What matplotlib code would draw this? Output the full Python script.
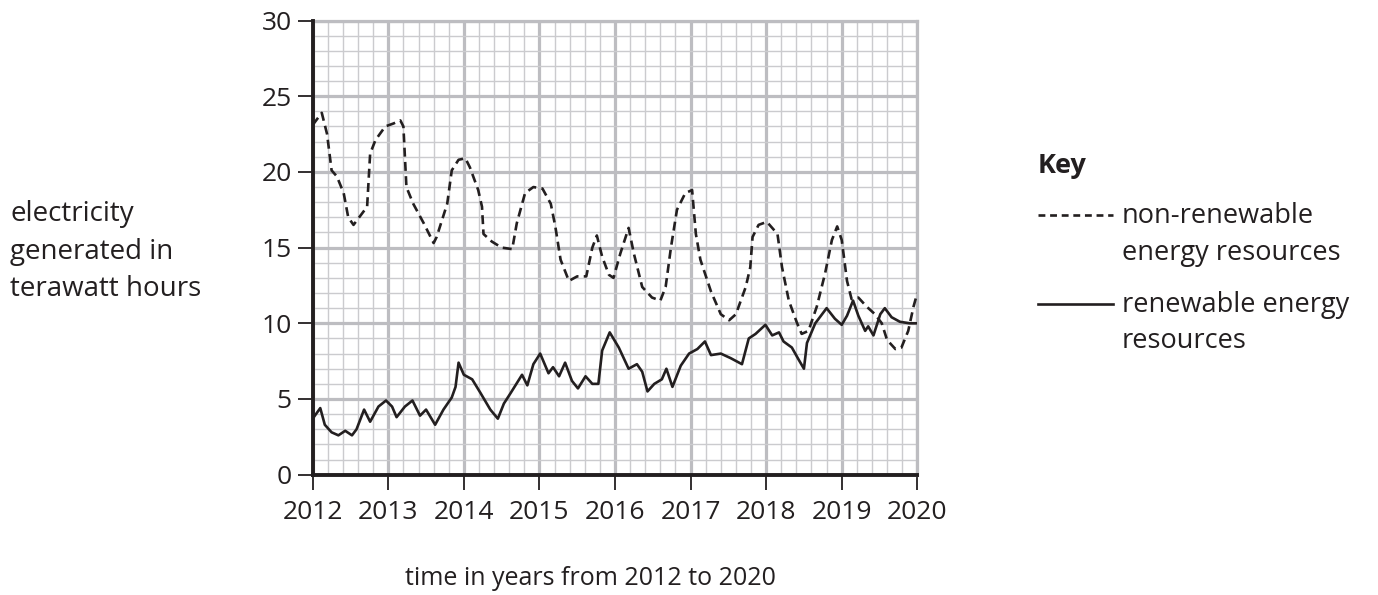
import matplotlib
matplotlib.use('Agg')
import matplotlib.pyplot as plt
from matplotlib.lines import Line2D
from matplotlib.ticker import MultipleLocator

plt.rcParams['font.family'] = ['Open Sans', 'DejaVu Sans']

# values (terawatt hours)
nonren_years = [2012.0, 2012.12, 2012.19, 2012.25, 2012.32, 2012.41, 2012.47, 2012.54, 2012.63, 2012.72,
                2012.76, 2012.83, 2012.96, 2013.07, 2013.16, 2013.20, 2013.24, 2013.33, 2013.47, 2013.60,
                2013.64, 2013.78, 2013.84, 2013.93, 2014.02, 2014.08, 2014.19, 2014.24, 2014.26, 2014.37,
                2014.50, 2014.64, 2014.70, 2014.81, 2014.92, 2015.04, 2015.15, 2015.21, 2015.28, 2015.39,
                2015.50, 2015.62, 2015.70, 2015.76, 2015.83, 2015.92, 2015.98, 2016.07, 2016.18, 2016.25,
                2016.36, 2016.49, 2016.60, 2016.67, 2016.74, 2016.82, 2016.93, 2017.02, 2017.07, 2017.13,
                2017.27, 2017.40, 2017.51, 2017.60, 2017.73, 2017.79, 2017.82, 2017.90, 2018.01, 2018.15,
                2018.21, 2018.30, 2018.41, 2018.47, 2018.56, 2018.67, 2018.78, 2018.87, 2018.94, 2019.00,
                2019.07, 2019.13, 2019.22, 2019.33, 2019.44, 2019.53, 2019.60, 2019.71, 2019.79, 2019.88,
                2019.95, 2020.0]
nonren_twh = [23.1, 23.9, 22.5, 20.1, 19.7, 18.6, 17.0, 16.5, 17.1, 17.7,
              21.2, 22.1, 23.0, 23.2, 23.4, 23.0, 19.0, 17.9, 16.6, 15.3,
              15.7, 17.9, 20.1, 20.8, 20.9, 20.3, 18.8, 17.7, 15.9, 15.4,
              15.0, 14.9, 16.6, 18.6, 19.0, 18.9, 17.9, 16.4, 14.2, 12.8,
              13.1, 13.1, 15.0, 15.8, 14.4, 13.2, 13.0, 14.6, 16.3, 14.6,
              12.4, 11.7, 11.5, 12.4, 15.0, 17.5, 18.6, 18.8, 15.9, 14.2,
              12.1, 10.6, 10.2, 10.6, 12.4, 13.7, 15.7, 16.5, 16.7, 15.9,
              13.7, 11.5, 10.0, 9.3, 9.5, 11.1, 13.3, 15.5, 16.4, 15.5,
              12.8, 11.6, 11.7, 11.1, 10.6, 10.0, 8.9, 8.3, 8.4, 9.5,
              11.1, 12.0]

ren_years = [2012.0, 2012.10, 2012.16, 2012.25, 2012.34, 2012.43, 2012.52, 2012.58, 2012.68, 2012.76,
             2012.87, 2012.97, 2013.05, 2013.11, 2013.22, 2013.32, 2013.42, 2013.50, 2013.62, 2013.73,
             2013.84, 2013.89, 2013.93, 2014.00, 2014.11, 2014.22, 2014.35, 2014.45, 2014.53, 2014.62,
             2014.77, 2014.84, 2014.92, 2015.01, 2015.12, 2015.18, 2015.26, 2015.34, 2015.43, 2015.51,
             2015.61, 2015.70, 2015.78, 2015.83, 2015.93, 2016.05, 2016.18, 2016.29, 2016.36, 2016.43,
             2016.52, 2016.62, 2016.68, 2016.76, 2016.87, 2016.98, 2017.09, 2017.19, 2017.27, 2017.40,
             2017.53, 2017.68, 2017.77, 2017.86, 2017.99, 2018.08, 2018.17, 2018.23, 2018.34, 2018.43,
             2018.50, 2018.54, 2018.65, 2018.80, 2018.91, 2019.00, 2019.07, 2019.15, 2019.22, 2019.31,
             2019.35, 2019.42, 2019.51, 2019.57, 2019.66, 2019.77, 2019.90, 2020.0]
ren_twh = [3.7, 4.4, 3.3, 2.8, 2.6, 2.9, 2.6, 3.0, 4.3, 3.5,
           4.5, 4.9, 4.5, 3.8, 4.5, 4.9, 3.9, 4.3, 3.3, 4.3,
           5.1, 5.8, 7.4, 6.6, 6.3, 5.4, 4.3, 3.7, 4.7, 5.4,
           6.6, 5.9, 7.3, 8.0, 6.7, 7.1, 6.5, 7.4, 6.2, 5.7,
           6.5, 6.0, 6.0, 8.2, 9.4, 8.4, 7.0, 7.3, 6.8, 5.5,
           6.0, 6.3, 7.0, 5.8, 7.2, 8.0, 8.3, 8.8, 7.9, 8.0,
           7.7, 7.3, 9.0, 9.3, 9.9, 9.2, 9.4, 8.8, 8.4, 7.6,
           7.0, 8.7, 10.0, 11.0, 10.3, 9.9, 10.5, 11.5, 10.5, 9.5,
           9.8, 9.2, 10.6, 11.0, 10.4, 10.1, 10.0, 10.0]

year_ticks = [2012, 2013, 2014, 2015, 2016, 2017, 2018, 2019, 2020]
twh_ticks = [0, 5, 10, 15, 20, 25, 30]

W, H = 1378, 595
fig = plt.figure(figsize=(W / 100, H / 100), dpi=100)
ax = fig.add_axes([312.7 / W, 120.3 / H, 604.6 / W, 454.2 / H])

ink = '#231f20'
major_grey = '#bdbdc1'
minor_grey = '#cbcbce'

ax.plot(nonren_years, nonren_twh, color=ink, lw=1.9, dashes=[3.4, 2.0], zorder=3)
ax.plot(ren_years, ren_twh, color=ink, lw=1.9, solid_joinstyle='round', zorder=3)

ax.set_xlim(2012, 2020)
ax.set_ylim(0, 30)
ax.set_xticks(year_ticks)
ax.set_yticks(twh_ticks)
ax.xaxis.set_minor_locator(MultipleLocator(0.2))
ax.yaxis.set_minor_locator(MultipleLocator(1))
ax.set_axisbelow(True)
ax.grid(which='minor', color=minor_grey, lw=1.0)
ax.grid(which='major', color=major_grey, lw=2.3)

for side in ['top', 'right']:
    ax.spines[side].set_color(major_grey)
    ax.spines[side].set_linewidth(2.3)
for side in ['left', 'bottom']:
    ax.spines[side].set_color(ink)
    ax.spines[side].set_linewidth(2.8)
    ax.spines[side].set_zorder(4)

ax.tick_params(which='major', length=11, width=1.3, color=ink, labelsize=19,
               labelcolor=ink, top=False, right=False)
ax.tick_params(axis='x', which='major', pad=7)
ax.tick_params(axis='y', which='major', pad=4)
ax.tick_params(which='minor', length=0)

# y axis label, three lines at the left
for i, line in enumerate(['electricity', 'generated in', 'terawatt hours']):
    fig.text(10 / W, 1 - (221 + 37.5 * i) / H, line, ha='left', va='baseline',
             fontsize=20, color=ink)

fig.text(405 / W, 1 - 585 / H, 'time in years from 2012 to 2020', ha='left', va='baseline',
         fontsize=18, color=ink)

# key
key = dict(fontsize=19.5, color=ink, va='baseline', ha='left')
fig.text(1038 / W, 1 - 173 / H, 'Key', fontweight='bold', **key)
fig.add_artist(Line2D([1038 / W, 1113 / W], [1 - 215 / H, 1 - 215 / H], color=ink,
                      lw=1.9, dashes=[2.6, 1.8], transform=fig.transFigure))
fig.add_artist(Line2D([1038 / W, 1113 / W], [1 - 304 / H, 1 - 304 / H], color=ink,
                      lw=1.9, transform=fig.transFigure))
fig.text(1122 / W, 1 - 223 / H, 'non-renewable', **key)
fig.text(1122 / W, 1 - 260 / H, 'energy resources', **key)
fig.text(1122 / W, 1 - 312 / H, 'renewable energy', **key)
fig.text(1122 / W, 1 - 348 / H, 'resources', **key)

plt.savefig('out.png', dpi=100)
